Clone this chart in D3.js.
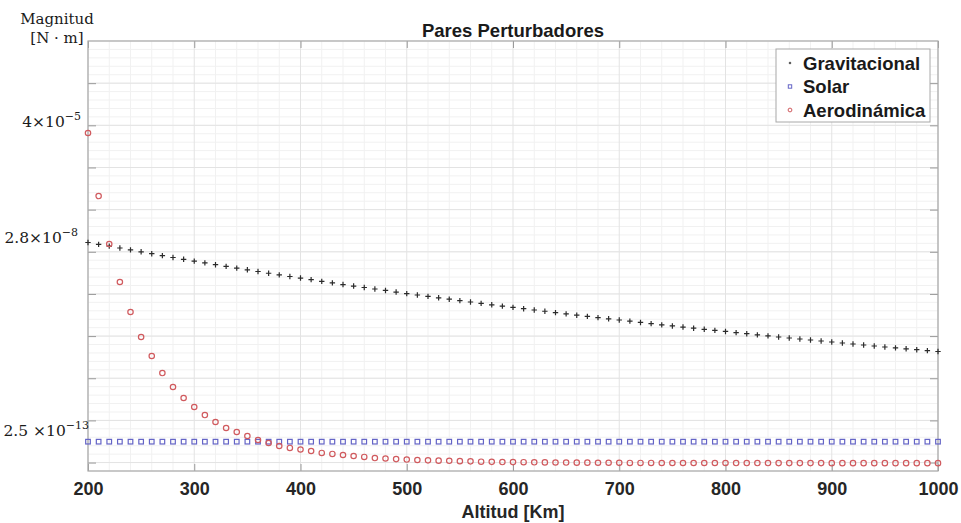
<!DOCTYPE html>
<html>
<head>
<meta charset="utf-8">
<script src="https://cdn.jsdelivr.net/npm/d3@7"></script>
<style>
body{margin:0;background:#fff;}
.axis text{font-family:"Liberation Sans",Arial,sans-serif;font-weight:bold;font-size:18px;fill:#262626;}
.axis line{stroke:#9a9a9a;}
.axis path{display:none;}
</style>
</head>
<body>
<svg id="chart" width="961" height="523"></svg>
<script>
// altitud (km)
var altitud = [200,210,220,230,240,250,260,270,280,290,
	300,310,320,330,340,350,360,370,380,390,
	400,410,420,430,440,450,460,470,480,490,
	500,510,520,530,540,550,560,570,580,590,
	600,610,620,630,640,650,660,670,680,690,
	700,710,720,730,740,750,760,770,780,790,
	800,810,820,830,840,850,860,870,880,890,
	900,910,920,930,940,950,960,970,980,990,1000];

// pares perturbadores (N·m)
var gravitacional = [1.66e-8,1.50e-8,1.36e-8,1.23e-8,1.11e-8,1.00e-8,9.01e-9,8.12e-9,7.32e-9,6.63e-9,
	6.01e-9,5.45e-9,4.94e-9,4.50e-9,4.10e-9,3.74e-9,3.41e-9,3.10e-9,2.83e-9,2.59e-9,
	2.38e-9,2.18e-9,1.99e-9,1.83e-9,1.67e-9,1.54e-9,1.42e-9,1.31e-9,1.21e-9,1.11e-9,
	1.02e-9,9.44e-10,8.74e-10,8.10e-10,7.50e-10,6.95e-10,6.44e-10,5.97e-10,5.53e-10,5.15e-10,
	4.79e-10,4.47e-10,4.16e-10,3.88e-10,3.61e-10,3.36e-10,3.13e-10,2.93e-10,2.75e-10,2.57e-10,
	2.41e-10,2.26e-10,2.11e-10,1.98e-10,1.85e-10,1.74e-10,1.64e-10,1.54e-10,1.45e-10,1.37e-10,
	1.29e-10,1.21e-10,1.14e-10,1.07e-10,1.01e-10,9.52e-11,9.01e-11,8.53e-11,8.08e-11,7.65e-11,
	7.24e-11,6.86e-11,6.49e-11,6.15e-11,5.82e-11,5.51e-11,5.25e-11,5.00e-11,4.76e-11,4.53e-11,4.31e-11];

var solar = [3.13e-13,3.13e-13,3.13e-13,3.13e-13,3.13e-13,3.13e-13,3.13e-13,3.13e-13,3.13e-13,3.13e-13,
	3.13e-13,3.13e-13,3.13e-13,3.13e-13,3.13e-13,3.13e-13,3.13e-13,3.13e-13,3.13e-13,3.13e-13,
	3.13e-13,3.13e-13,3.13e-13,3.13e-13,3.13e-13,3.13e-13,3.13e-13,3.13e-13,3.13e-13,3.13e-13,
	3.13e-13,3.13e-13,3.13e-13,3.13e-13,3.13e-13,3.13e-13,3.13e-13,3.13e-13,3.13e-13,3.13e-13,
	3.13e-13,3.13e-13,3.13e-13,3.13e-13,3.13e-13,3.13e-13,3.13e-13,3.13e-13,3.13e-13,3.13e-13,
	3.13e-13,3.13e-13,3.13e-13,3.13e-13,3.13e-13,3.13e-13,3.13e-13,3.13e-13,3.13e-13,3.13e-13,
	3.13e-13,3.13e-13,3.13e-13,3.13e-13,3.13e-13,3.13e-13,3.13e-13,3.13e-13,3.13e-13,3.13e-13,
	3.13e-13,3.13e-13,3.13e-13,3.13e-13,3.13e-13,3.13e-13,3.13e-13,3.13e-13,3.13e-13,3.13e-13,3.13e-13];

var aerodinamica = [6.57e-6,2.10e-7,1.53e-8,1.92e-9,3.73e-10,9.52e-11,3.37e-11,1.33e-11,6.20e-12,3.40e-12,
	2.08e-12,1.34e-12,9.17e-13,6.61e-13,5.31e-13,4.27e-13,3.43e-13,2.91e-13,2.47e-13,2.22e-13,
	2.04e-13,1.88e-13,1.69e-13,1.60e-13,1.51e-13,1.43e-13,1.36e-13,1.28e-13,1.25e-13,1.21e-13,
	1.18e-13,1.15e-13,1.13e-13,1.11e-13,1.10e-13,1.08e-13,1.07e-13,1.05e-13,1.04e-13,1.03e-13,
	1.026e-13,1.02e-13,1.015e-13,1.01e-13,1.005e-13,1.00e-13,9.95e-14,9.95e-14,9.9e-14,9.9e-14,
	9.85e-14,9.8e-14,9.8e-14,9.8e-14,9.78e-14,9.78e-14,9.76e-14,9.76e-14,9.76e-14,9.76e-14,
	9.76e-14,9.74e-14,9.74e-14,9.74e-14,9.74e-14,9.72e-14,9.72e-14,9.72e-14,9.72e-14,9.72e-14,
	9.7e-14,9.7e-14,9.7e-14,9.7e-14,9.7e-14,9.7e-14,9.7e-14,9.7e-14,9.7e-14,9.7e-14,9.7e-14];

var xTicks = [200,300,400,500,600,700,800,900,1000];
var yTicks = [1e-4,1e-5,1e-6,1e-7,1e-8,1e-9,1e-10,1e-11,1e-12,1e-13];
var serieNames = ["Gravitacional","Solar","Aerodinámica"];
// etiquetas escritas junto al primer punto de cada serie
var annotations = [
	{base:"4×10", exp:"−5", serie:2},
	{base:"2.8×10", exp:"−8", serie:0},
	{base:"2.5 ×10", exp:"−13", serie:1}
];

var _color = {gravitacional:"#2b2b2b", solar:"#6464c6", aero:"#d05a5e", grid:"#e3e3e3", gridMinor:"#f1f1f1", frame:"#a8a8a8"};

var svg = d3.select("#chart"),
	margin = {top:41, right:23, bottom:52, left:88},
	width = +svg.attr("width") - margin.left - margin.right,
	height = +svg.attr("height") - margin.top - margin.bottom;

var x = d3.scaleLinear().domain([200,1000]).range([0,width]),
	y = d3.scaleLog().domain([1e-3, Math.pow(10,-13.2)]).range([0,height]);

var g = svg.append("g").attr("transform","translate("+margin.left+","+margin.top+")");

// grid: minor first, then major
var minorX = [], minorY = [];
for(var v=200; v<=1000; v+=20){ if(v%100) minorX.push(v); }
for(var e=-3; e>-13.2; e-=0.2){ minorY.push(Math.pow(10,e)); }

g.append("g").selectAll("line").data(minorX).enter().append("line")
	.attr("x1",function(d){return x(d);}).attr("x2",function(d){return x(d);})
	.attr("y1",0).attr("y2",height).attr("stroke",_color.gridMinor);
g.append("g").selectAll("line").data(minorY).enter().append("line")
	.attr("y1",function(d){return y(d);}).attr("y2",function(d){return y(d);})
	.attr("x1",0).attr("x2",width).attr("stroke",_color.gridMinor);
g.append("g").selectAll("line").data(xTicks).enter().append("line")
	.attr("x1",function(d){return x(d);}).attr("x2",function(d){return x(d);})
	.attr("y1",0).attr("y2",height).attr("stroke",_color.grid);
g.append("g").selectAll("line").data(yTicks).enter().append("line")
	.attr("y1",function(d){return y(d);}).attr("y2",function(d){return y(d);})
	.attr("x1",0).attr("x2",width).attr("stroke",_color.grid);

// axes (ticks inward, like matlab)
g.append("g").attr("class","axis")
	.attr("transform","translate(0,"+height+")")
	.call(d3.axisBottom(x).tickValues(xTicks).tickSize(-7).tickPadding(11).tickFormat(d3.format("d")));
g.append("g").attr("class","axis")
	.call(d3.axisTop(x).tickValues(xTicks).tickSize(-7).tickFormat(""));
g.append("g").attr("class","axis")
	.call(d3.axisLeft(y).tickValues(yTicks).tickSize(-8).tickFormat(""));
g.append("g").attr("class","axis")
	.attr("transform","translate("+width+",0)")
	.call(d3.axisRight(y).tickValues(yTicks).tickSize(-8).tickFormat(""));

g.append("rect").attr("width",width).attr("height",height)
	.attr("fill","none").attr("stroke",_color.frame).attr("stroke-width",1.2);

// series
var rows = altitud.map(function(a,i){
	return {alt:a, grav:gravitacional[i], sol:solar[i], aero:aerodinamica[i]};
});

g.append("g").selectAll("path").data(rows).enter().append("path")
	.attr("d","M-2.7,0H2.7M0,-2.7V2.7")
	.attr("transform",function(d){return "translate("+x(d.alt)+","+y(d.grav)+")";})
	.attr("stroke",_color.gravitacional).attr("stroke-width",1.2).attr("fill","none");

g.append("g").selectAll("rect").data(rows).enter().append("rect")
	.attr("x",function(d){return x(d.alt)-2.3;})
	.attr("y",function(d){return y(d.sol)-2.3;})
	.attr("width",4.6).attr("height",4.6)
	.attr("stroke",_color.solar).attr("stroke-width",1.2).attr("fill","none");

g.append("g").selectAll("circle").data(rows).enter().append("circle")
	.attr("cx",function(d){return x(d.alt);})
	.attr("cy",function(d){return y(d.aero);})
	.attr("r",2.7)
	.attr("stroke",_color.aero).attr("stroke-width",1.2).attr("fill","none");

// title and axis labels
svg.append("text").attr("x",margin.left+width/2).attr("y",37)
	.attr("text-anchor","middle")
	.style("font-family","'Liberation Sans',Arial,sans-serif").style("font-weight","bold").style("font-size","18.5px")
	.attr("fill","#1a1a1a").text("Pares Perturbadores");

svg.append("text").attr("x",margin.left+width/2).attr("y",518)
	.attr("text-anchor","middle")
	.style("font-family","'Liberation Sans',Arial,sans-serif").style("font-weight","bold").style("font-size","18px")
	.attr("fill","#262626").text("Altitud [Km]");

var yl = svg.append("g").style("font-family","'DejaVu Serif',serif").style("font-size","15px").attr("fill","#1a1a1a");
yl.append("text").attr("x",57).attr("y",24).attr("text-anchor","middle").text("Magnitud");
yl.append("text").attr("x",57).attr("y",43).attr("text-anchor","middle").text("[N · m]");

// annotations next to first points
var series = [gravitacional, solar, aerodinamica];
var annOffset = [-6, 0, -6], annRight = [81, 78, 89];
var ann = svg.append("g").style("font-family","'DejaVu Serif',serif").attr("fill","#1a1a1a");
annotations.forEach(function(a,i){
	var t = ann.append("text")
		.attr("x",annRight[i])
		.attr("y",margin.top + y(series[a.serie][0]) + annOffset[i])
		.attr("text-anchor","end");
	t.append("tspan").style("font-size","15.5px").text(a.base);
	t.append("tspan").style("font-size","11px").attr("dy",-7).text(a.exp);
});

// legend
var legend = svg.append("g").attr("transform","translate(776,49)");
legend.append("rect").attr("width",154).attr("height",73)
	.attr("fill","#fff").attr("stroke","#a8a8a8").attr("stroke-width",1);
var li = legend.selectAll("g.item").data(serieNames).enter().append("g")
	.attr("class","item")
	.attr("transform",function(d,i){return "translate(0,"+(14+i*23.5)+")";});
li.append("text").attr("x",27).attr("y",6.5)
	.style("font-family","'Liberation Sans',Arial,sans-serif").style("font-weight","bold").style("font-size","18.5px")
	.attr("fill","#1a1a1a").text(function(d){return d;});
li.filter(function(d,i){return i===0;}).append("path")
	.attr("d","M12.8,0H15.2M14,-1.2V1.2").attr("stroke",_color.gravitacional).attr("stroke-width",1);
li.filter(function(d,i){return i===1;}).append("rect")
	.attr("x",12.3).attr("y",-1.7).attr("width",3.4).attr("height",3.4)
	.attr("fill","none").attr("stroke",_color.solar).attr("stroke-width",1);
li.filter(function(d,i){return i===2;}).append("circle")
	.attr("cx",14).attr("cy",0).attr("r",1.9)
	.attr("fill","none").attr("stroke",_color.aero).attr("stroke-width",1);
</script>
</body>
</html>
